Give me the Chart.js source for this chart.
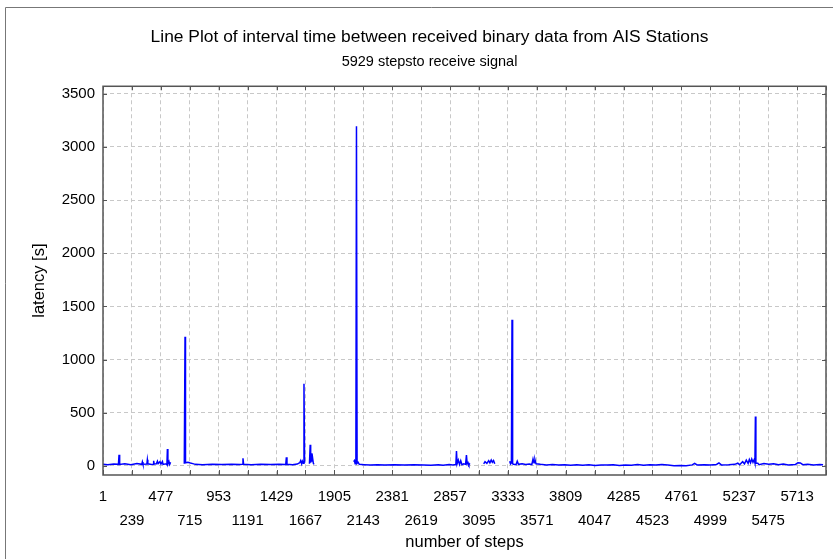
<!DOCTYPE html>
<html>
<head>
<meta charset="utf-8">
<script src="https://cdn.jsdelivr.net/npm/chart.js@4/dist/chart.umd.min.js"></script>
<style>
  html, body { margin: 0; padding: 0; background: #fff; overflow: hidden; }
</style>
</head>
<body>
<!-- the panel runs past the right edge of the window, as in the source image -->
<canvas id="latencyChart" width="858" height="559"></canvas>
<script>
// x tick positions (steps), two label rows alternate
const xTicks = [1, 239, 477, 715, 953, 1191, 1429, 1667, 1905, 2143, 2381, 2619, 2857,
  3095, 3333, 3571, 3809, 4047, 4285, 4523, 4761, 4999, 5237, 5475, 5713, 5951];
const yTicks = [0, 500, 1000, 1500, 2000, 2500, 3000, 3500];

// [step, latency]; null = no data (gap in the line)
const samples = [
  [1, 15], [40, 12], [90, 18], [128, 15], [133, 105], [138, 14], [180, 20], [230, 12],
  [280, 22], [320, 15], [325, 38], [330, 16], [362, 18], [366, 58], [370, 20], [400, 14],
  [414, 16], [418, 48], [422, 18], [440, 20], [449, 45], [455, 22], [470, 40], [478, 18],
  [490, 42], [495, 15], [520, 20], [527, 14], [531, 160], [535, 18], [544, 42], [550, 15],
  [557, 35], [600, null],
  [670, 20], [676, 1215], [680, 30], [700, 35], [720, 28], [740, 22], [760, 15], [820, 12],
  [900, 16], [980, 13], [1060, 17], [1130, 14], [1148, 15], [1153, 72], [1158, 15],
  [1220, 12], [1300, 16], [1380, 13], [1450, 15], [1505, 14], [1510, 81], [1515, 15],
  [1560, 12], [1600, 18], [1620, 30], [1628, 50], [1636, 20], [1642, 45], [1650, 25],
  [1655, 773], [1660, 30], [1680, null],
  [1700, 20], [1706, 200], [1710, 30], [1716, 119], [1720, 40], [1726, 75], [1732, 25],
  [1738, 15], [1760, null],
  [2064, 40], [2070, 50], [2076, 20], [2082, 30], [2087, 3195], [2092, 25], [2100, 35],
  [2110, 15], [2150, 12], [2200, 8], [2260, 12], [2320, 9], [2400, 12], [2480, 8],
  [2560, 11], [2640, 9], [2700, 7], [2760, 12], [2800, 6], [2850, 14], [2880, 10],
  [2905, 15], [2910, 140], [2915, 20], [2925, 56], [2935, 15], [2945, 50], [2955, 12],
  [2970, 20], [2985, 15], [2992, 103], [2998, 20], [3005, 31], [3012, 10], [3020, 25],
  [3050, null],
  [3134, 20], [3145, 40], [3160, 25], [3175, 50], [3185, 30], [3196, 56], [3205, 35],
  [3215, 50], [3225, 20], [3260, null],
  [3348, 45], [3355, 20], [3362, 30], [3367, 1375], [3372, 20], [3380, 15], [3400, 12],
  [3410, 45], [3420, 15], [3450, 20], [3480, 14], [3510, 18], [3530, 12], [3540, 65],
  [3548, 30], [3556, 60], [3565, 20], [3600, 15], [3650, 10], [3700, 14], [3750, 8],
  [3800, 12], [3850, 6], [3900, 11], [3950, 7], [4000, 12], [4050, 5], [4100, 10],
  [4150, 8], [4200, 12], [4250, 5], [4300, 10], [4350, 7], [4400, 13], [4450, 6],
  [4500, 12], [4550, 8], [4600, 14], [4650, 9], [4700, 2], [4750, 5], [4800, 3],
  [4850, 10], [4870, 25], [4890, 10], [4950, 12], [5000, 8], [5050, 14], [5070, 28],
  [5090, 10], [5150, 12], [5200, 15], [5225, 26], [5240, 12], [5265, 40], [5280, 20],
  [5295, 55], [5310, 25], [5320, 60], [5330, 30], [5340, 65], [5350, 35], [5360, 60],
  [5366, 30], [5370, 465], [5374, 25], [5390, 25], [5400, 12], [5440, 22], [5480, 15],
  [5520, 20], [5560, 12], [5600, 18], [5640, 10], [5700, 14], [5720, 31], [5740, 28],
  [5760, 12], [5800, 15], [5850, 10], [5900, 14], [5927, 12]
];

const FONT = '"Liberation Sans", Arial, sans-serif';

// plot frame, inward tick marks and the outer panel border
const framePlugin = {
  id: 'frame',
  afterDraw(chart) {
    const { ctx, chartArea: a, scales: { x, y } } = chart;
    ctx.save();
    ctx.strokeStyle = '#555';
    ctx.lineWidth = 1;
    ctx.beginPath();
    x.ticks.forEach(t => {
      const px = Math.round(x.getPixelForValue(t.value)) + 0.5;
      ctx.moveTo(px, a.top); ctx.lineTo(px, a.top + 4);
      ctx.moveTo(px, a.bottom); ctx.lineTo(px, a.bottom - 5);
    });
    y.ticks.forEach(t => {
      const py = Math.round(y.getPixelForValue(t.value)) + 0.5;
      ctx.moveTo(a.left, py); ctx.lineTo(a.left + 4, py);
      ctx.moveTo(a.right, py); ctx.lineTo(a.right - 4, py);
    });
    ctx.stroke();
    ctx.lineWidth = 1.5;
    ctx.strokeRect(a.left, a.top, a.right - a.left, a.bottom - a.top);
    ctx.strokeStyle = '#777';
    ctx.lineWidth = 1;
    ctx.beginPath();
    ctx.moveTo(5.5, chart.height);
    ctx.lineTo(5.5, 7.5);
    ctx.lineTo(chart.width, 7.5);
    ctx.stroke();
    ctx.restore();
  }
};

const ctx = document.getElementById('latencyChart').getContext('2d');
new Chart(ctx, {
  type: 'line',
  data: {
    datasets: [{
      data: samples.map(([s, v]) => ({ x: s, y: v })),
      borderColor: '#0000ff',
      borderWidth: 1.5,
      pointRadius: 0,
      tension: 0,
      spanGaps: false
    }]
  },
  options: {
    responsive: false,
    animation: false,
    layout: { padding: { top: 10, left: 5, right: 4, bottom: 0 } },
    plugins: {
      legend: { display: false },
      tooltip: { enabled: false },
      title: {
        display: true,
        text: 'Line Plot of interval time between received binary data from AIS Stations',
        color: '#000',
        font: { family: FONT, size: 17.4, weight: 'normal' },
        padding: { top: 17, bottom: 3 }
      },
      subtitle: {
        display: true,
        text: '5929 stepsto receive signal',
        color: '#000',
        font: { family: FONT, size: 14.5, weight: 'normal' },
        padding: { top: 2, bottom: 16 }
      }
    },
    scales: {
      x: {
        type: 'linear',
        min: 1,
        max: 5951,
        afterBuildTicks: scale => { scale.ticks = xTicks.map(v => ({ value: v })); },
        afterFit: scale => { scale.height = 84; },
        ticks: {
          color: '#000',
          maxRotation: 0,
          autoSkip: false,
          padding: 10,
          font: { family: FONT, size: 15, lineHeight: 1.6 },
          callback: (v, i) => {
            if (i === xTicks.length - 1) return '';
            return i % 2 === 0 ? [String(v)] : ['', String(v)];
          }
        },
        grid: { color: '#c8c8c8', drawTicks: false },
        border: { display: false, dash: [4, 3] },
        title: {
          display: true,
          text: 'number of steps',
          color: '#000',
          font: { family: FONT, size: 16.5 },
          padding: { top: 0, bottom: 7 }
        }
      },
      y: {
        min: -85,
        max: 3570,
        afterBuildTicks: scale => { scale.ticks = yTicks.map(v => ({ value: v })); },
        afterFit: scale => { scale.width = 98; },
        ticks: {
          color: '#000',
          padding: 8,
          font: { family: FONT, size: 15 },
          callback: v => String(v)
        },
        grid: { color: '#c8c8c8', drawTicks: false },
        border: { display: false, dash: [4, 3] },
        title: {
          display: true,
          text: 'latency [s]',
          color: '#000',
          font: { family: FONT, size: 16.5 },
          padding: { top: 25, bottom: 0 }
        }
      },
      // empty right-hand band: keeps the plot's right edge inside the window
      yRight: {
        position: 'right',
        min: -85,
        max: 3570,
        afterFit: scale => { scale.width = 28; },
        ticks: { display: false },
        grid: { display: false },
        border: { display: false }
      }
    }
  },
  plugins: [framePlugin]
});
</script>
</body>
</html>
